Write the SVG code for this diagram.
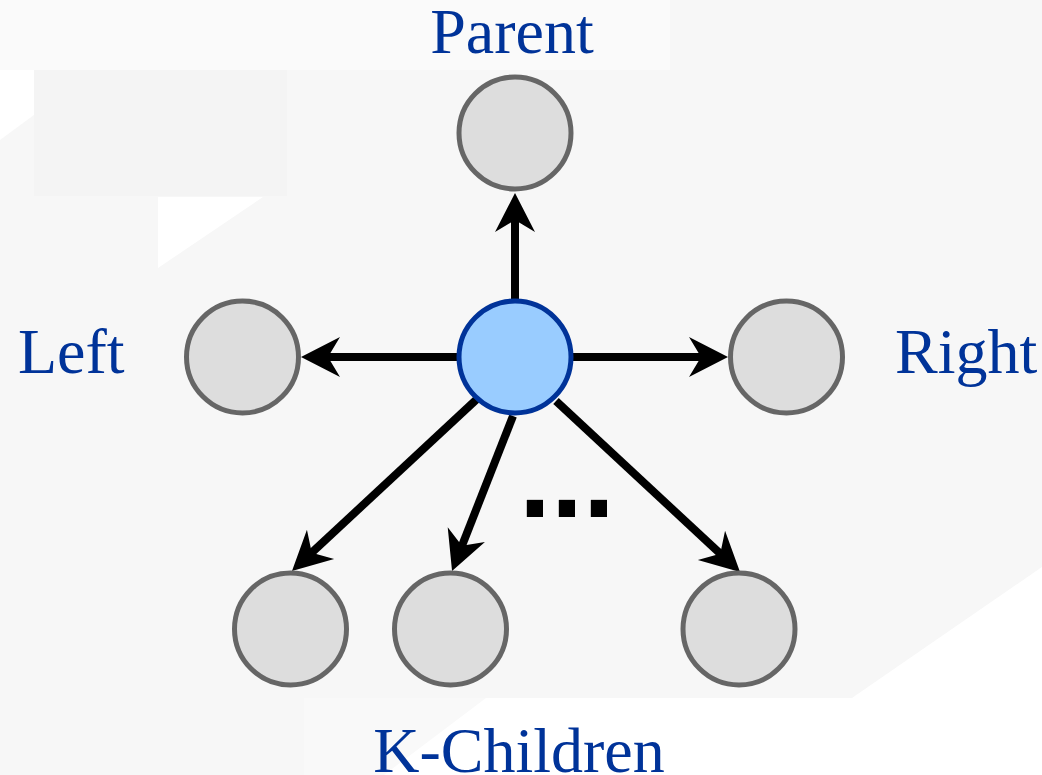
<svg xmlns="http://www.w3.org/2000/svg" width="1042" height="775" viewBox="0 0 1042 775">
  <style>
    .bg { fill: #f7f7f7; }
    .node { fill: #dddddd; stroke: #666666; stroke-width: 5; }
    .center { fill: #99ccff; stroke: #003399; stroke-width: 5; }
    .edge { stroke: #000000; stroke-width: 8; fill: none; marker-end: url(#arrow); }
    .label { font-family: "Liberation Serif", "Times New Roman", serif; font-size: 64px; fill: #003399; }
    .dots { font-family: "Liberation Sans", Arial, sans-serif; font-weight: bold; font-size: 115px; fill: #000000; }
  </style>
  <defs>
    <marker id="arrow" markerUnits="userSpaceOnUse" viewBox="-40 -21 41 42" markerWidth="41" markerHeight="42" refX="-25" refY="0" orient="auto">
      <path d="M0,0 L-39,-20 L-27,0 L-39,20 Z" fill="#000000"/>
    </marker>
  </defs>
  <g id="background">
    <rect class="bg" x="0" y="0" width="1042" height="775"/>
    <rect x="0" y="0" width="670" height="70" fill="#fafafa"/>
    <rect x="34" y="70" width="253" height="126" fill="#f4f4f4"/>
    <polygon points="0,70 34,70 34,115 0,140" fill="#ffffff"/>
    <polygon points="158,197 263,197 158,268" fill="#ffffff"/>
    <polygon points="1042,567 852,698 304,698 304,775 1042,775" fill="#f9f9f9"/>
    <polygon points="1042,567 852,698 486,698 384,775 1042,775" fill="#ffffff"/>
  </g>
  <g id="connectors">
    <line class="edge" x1="515" y1="299" x2="515" y2="218"/>
    <line class="edge" x1="457" y1="357" x2="326" y2="357"/>
    <line class="edge" x1="573" y1="357" x2="703" y2="357"/>
    <line class="edge" x1="477" y1="399" x2="310.3" y2="554"/>
    <line class="edge" x1="513" y1="416" x2="461.2" y2="547.7"/>
    <line class="edge" x1="556" y1="401" x2="721.7" y2="555"/>
  </g>
  <g id="node-parent">
    <circle class="node" cx="515" cy="133" r="56"/>
    <text class="label" x="512" y="53" text-anchor="middle">Parent</text>
  </g>
  <g id="node-left">
    <circle class="node" cx="242.5" cy="357" r="56"/>
    <text class="label" x="18" y="373">Left</text>
  </g>
  <g id="node-right">
    <circle class="node" cx="786.5" cy="357" r="56"/>
    <text class="label" x="895" y="373">Right</text>
  </g>
  <g id="node-center">
    <circle class="center" cx="515" cy="357" r="56"/>
  </g>
  <g id="node-child1">
    <circle class="node" cx="290.5" cy="629" r="56"/>
  </g>
  <g id="node-child2">
    <circle class="node" cx="450.5" cy="629" r="56"/>
  </g>
  <g id="node-child3">
    <circle class="node" cx="739" cy="629" r="56"/>
  </g>
  <g id="children-label">
    <text class="dots" x="519" y="517">...</text>
    <text class="label" x="519" y="772" text-anchor="middle">K-Children</text>
  </g>
</svg>
